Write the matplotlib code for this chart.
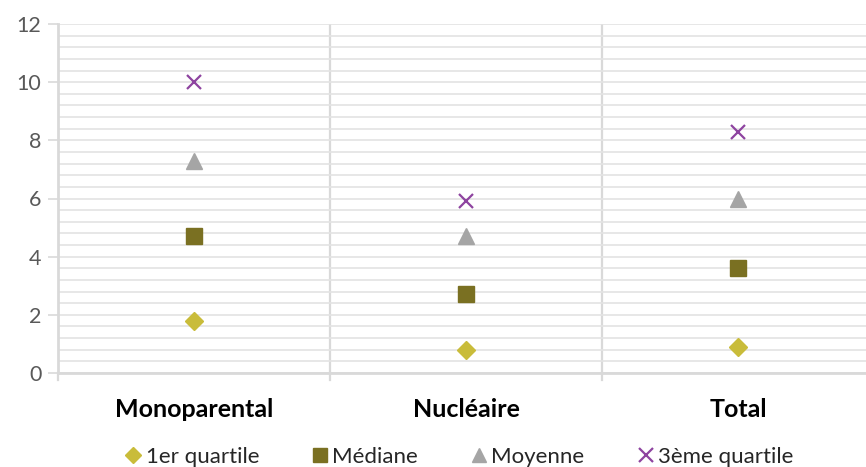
import matplotlib
matplotlib.use("Agg")
import matplotlib.pyplot as plt
from matplotlib.ticker import MultipleLocator
import numpy as np

categories = ["Monoparental", "Nucléaire", "Total"]
q1 = [1.8, 0.8, 0.9]
mediane = [4.7, 2.7, 3.6]
moyenne = [7.3, 4.7, 6.0]
q3 = [10.0, 5.9, 8.3]
series_names = ["1er quartile", "Médiane", "Moyenne", "3ème quartile"]
yticks = [0, 2, 4, 6, 8, 10, 12]

plt.rcParams['font.family'] = ['Lato', 'DejaVu Sans']

W, H = 866, 467
fig = plt.figure(figsize=(W/100, H/100), dpi=100)
left, right, top, bottom = 58, 874, 24, 373
ax = fig.add_axes([left/W, 1-bottom/H, (right-left)/W, (bottom-top)/H])

x = np.arange(len(categories))
grid_c = "#E3E3E3"
ax.set_xlim(-0.5, len(categories)-0.5)
ax.set_ylim(0, 12)
ax.yaxis.set_major_locator(MultipleLocator(2))
ax.yaxis.set_minor_locator(MultipleLocator(0.4))
ax.grid(which='both', axis='y', color=grid_c, lw=1.2, zorder=0)
for b in [0.5, 1.5]:
    ax.axvline(b, color="#D9D9D9", lw=1.6, zorder=1)
    ax.plot([b, b], [0, -0.25], color="#D9D9D9", lw=1.6, clip_on=False)
ax.plot([-0.5, -0.5], [0, -0.25], color="#D9D9D9", lw=1.6, clip_on=False)

for s in ['top', 'right']:
    ax.spines[s].set_visible(False)
for s in ['left', 'bottom']:
    ax.spines[s].set_color("#D9D9D9")
    ax.spines[s].set_linewidth(2)

ax.set_yticks(yticks)
ax.set_yticklabels([str(v) for v in yticks])
ax.tick_params(axis='y', which='major', length=7, color="#D9D9D9", width=1.2,
               labelsize=15.5, labelcolor="#595959", pad=5)
ax.tick_params(axis='y', which='minor', length=0)
ax.set_xticks(x)
ax.set_xticklabels(categories, fontsize=18, fontweight='bold', color="#000000")
ax.tick_params(axis='x', length=0, pad=18)

ms = 11
h1, = ax.plot(x, q1, 'D', color="#C9BC3A", ms=ms*0.85, ls='none', zorder=3, label=series_names[0])
h2, = ax.plot(x, mediane, 's', color="#7A7022", ms=ms, ls='none', zorder=3, label=series_names[1])
h3, = ax.plot(x, moyenne, '^', color="#A5A5A5", ms=ms*1.05, ls='none', zorder=3, label=series_names[2])
h4, = ax.plot(x, q3, 'x', color="#8E44A0", ms=ms*0.95, mew=1.6, ls='none', zorder=3, label=series_names[3])

fig.legend(handles=[h1, h2, h3, h4], labels=series_names, loc='center',
           bbox_to_anchor=(460/W, 1-457/H), ncol=4, frameon=False,
           fontsize=16, labelcolor="#262626", handlelength=0.6,
           handletextpad=0.25, columnspacing=2.45, markerscale=0.9)

fig.savefig("out.png", dpi=100)
